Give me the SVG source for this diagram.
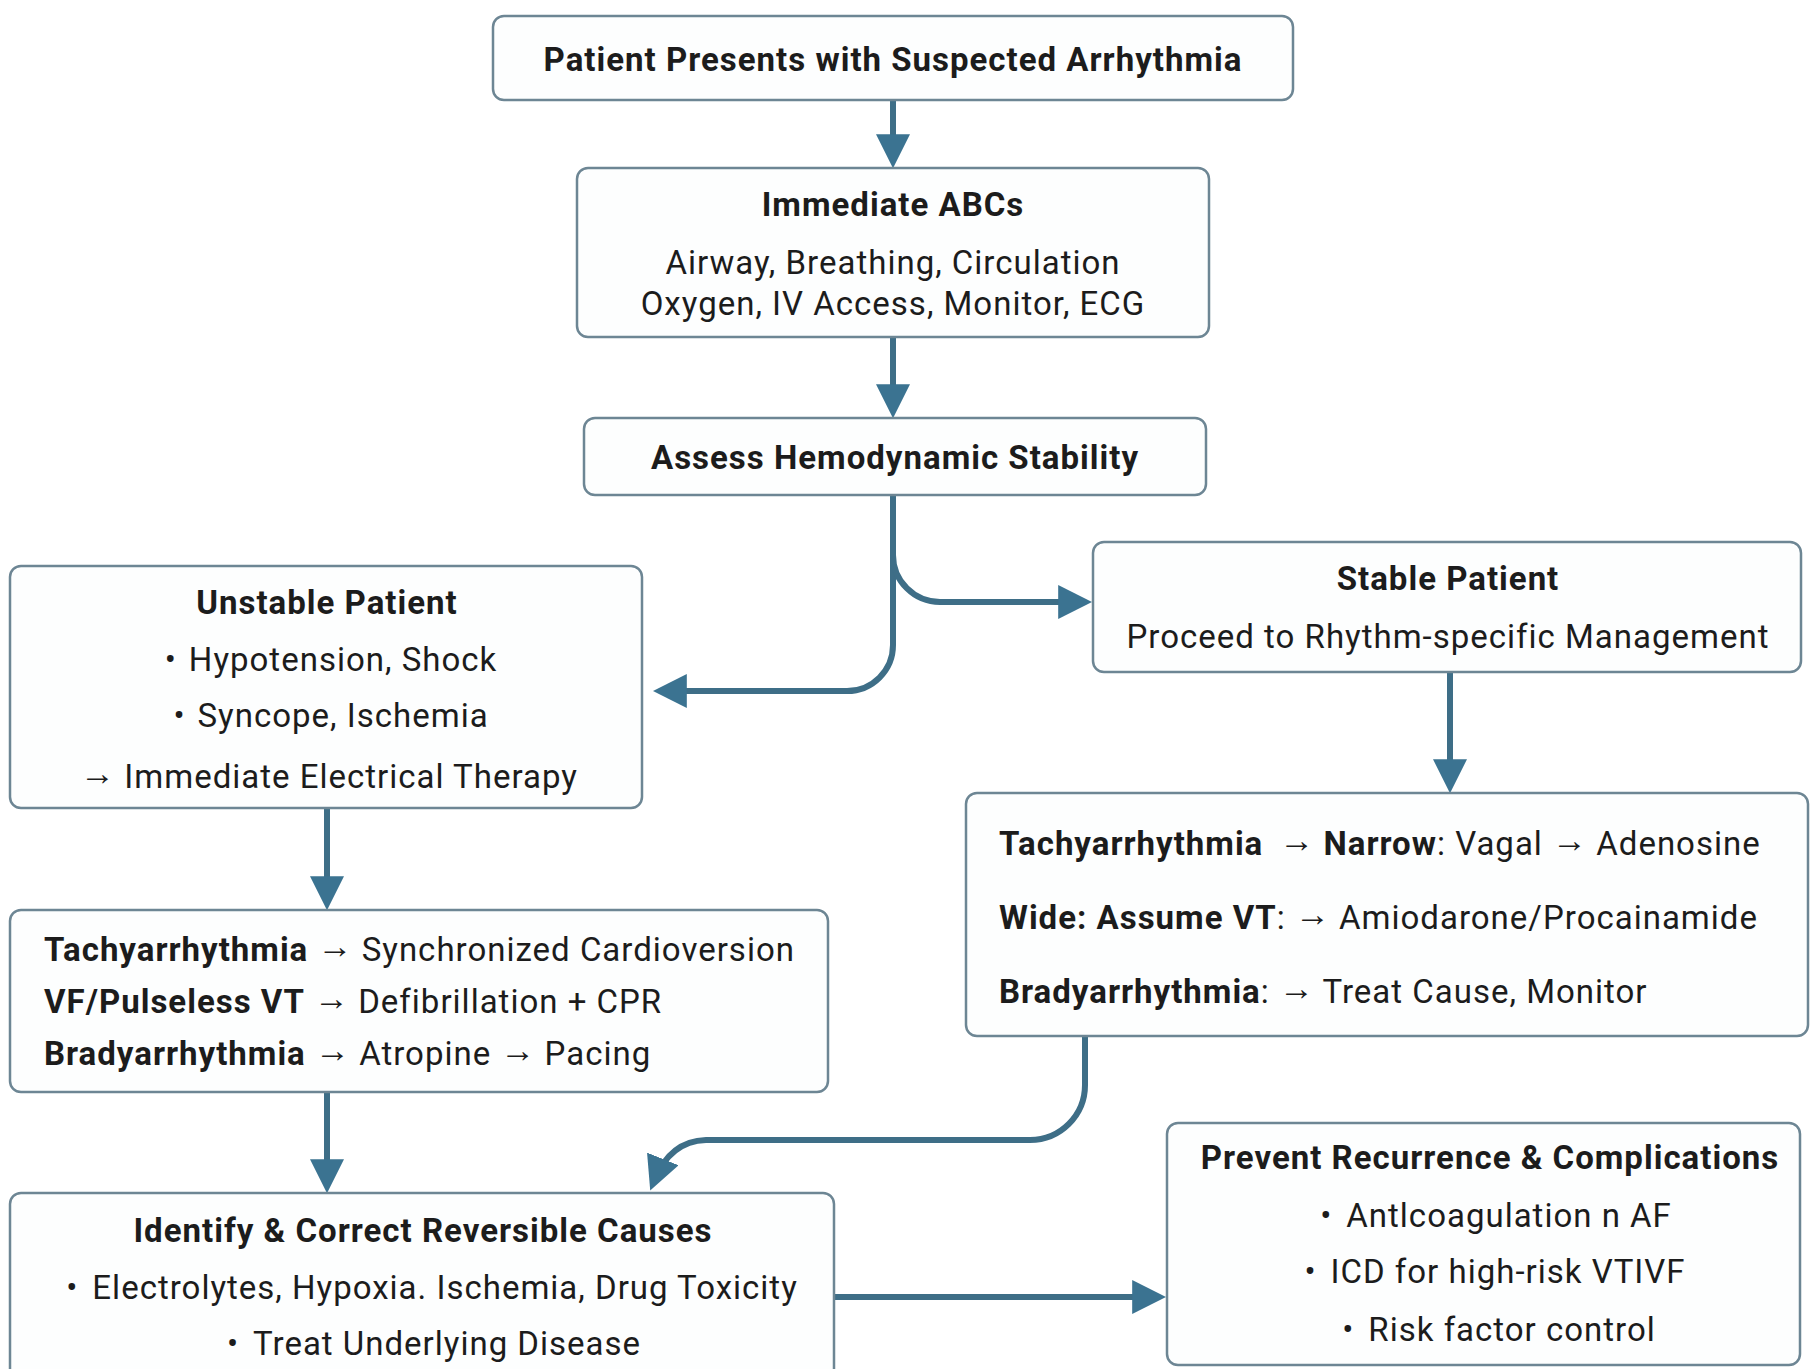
<svg xmlns="http://www.w3.org/2000/svg" width="1811" height="1369" viewBox="0 0 1811 1369">
<style>
.box{fill:#fdfefe;stroke:#6d8694;stroke-width:2.5}
text{font-family:Roboto,"Liberation Sans",Arial,sans-serif;fill:#1c1c1c;font-size:33px;letter-spacing:1px}
.c{text-anchor:middle}
.b{font-weight:bold}
.ar{font-size:35px;baseline-shift:3px;letter-spacing:0}
.conn{fill:none;stroke:#3e6e87;stroke-width:6}
</style>
<defs>
<marker id="ah" viewBox="0 0 10 10" refX="7" refY="5" markerWidth="34" markerHeight="34" markerUnits="userSpaceOnUse" orient="auto">
<path d="M0,0 L10,5 L0,10 z" fill="#3b7391"/>
</marker>
</defs>
<rect width="1811" height="1369" fill="#ffffff"/>
<g id="connectors">
<path class="conn" d="M893,100 V158" marker-end="url(#ah)"/>
<path class="conn" d="M893,337 V408" marker-end="url(#ah)"/>
<path class="conn" d="M893,495 V645 A46,46 0 0 1 847,691 H663" marker-end="url(#ah)"/>
<path class="conn" d="M893,555 A47,47 0 0 0 940,602 H1082" marker-end="url(#ah)"/>
<path class="conn" d="M1450,672 V783" marker-end="url(#ah)"/>
<path class="conn" d="M327,808 V900" marker-end="url(#ah)"/>
<path class="conn" d="M327,1092 V1183" marker-end="url(#ah)"/>
<path class="conn" d="M1085,1036 V1085 A55,55 0 0 1 1030,1140 H706 Q670,1141 654,1181" marker-end="url(#ah)"/>
<path class="conn" d="M834,1297 H1156" marker-end="url(#ah)"/>
</g>
<g id="n1">
<rect class="box" x="493" y="16" width="800" height="84" rx="11"/>
<text class="c b" x="893" y="71">Patient Presents with Suspected Arrhythmia</text>
</g>
<g id="n2">
<rect class="box" x="577" y="168" width="632" height="169" rx="11"/>
<text class="c b" x="893" y="216">Immediate ABCs</text>
<text class="c" x="893" y="274">Airway, Breathing, Circulation</text>
<text class="c" x="893" y="315">Oxygen, IV Access, Monitor, ECG</text>
</g>
<g id="n3">
<rect class="box" x="584" y="418" width="622" height="77" rx="11"/>
<text class="c b" x="895" y="469">Assess Hemodynamic Stability</text>
</g>
<g id="n4">
<rect class="box" x="10" y="566" width="632" height="242" rx="11"/>
<text class="c b" x="327" y="614">Unstable Patient</text>
<text class="c" x="331" y="671">•<tspan dx="12">Hypotension, Shock</tspan></text>
<text class="c" x="331" y="727">•<tspan dx="12">Syncope, Ischemia</tspan></text>
<text class="c" x="329" y="788"><tspan class="ar">→</tspan> Immediate Electrical Therapy</text>
</g>
<g id="n5">
<rect class="box" x="1093" y="542" width="708" height="130" rx="11"/>
<text class="c b" x="1448" y="590">Stable Patient</text>
<text class="c" x="1448" y="648">Proceed to Rhythm-specific Management</text>
</g>
<g id="n6">
<rect class="box" x="10" y="910" width="818" height="182" rx="11"/>
<text x="44" y="961"><tspan class="b">Tachyarrhythmia</tspan> <tspan class="ar">→</tspan> Synchronized Cardioversion</text>
<text x="44" y="1013"><tspan class="b">VF/Pulseless VT</tspan> <tspan class="ar">→</tspan> Defibrillation + CPR</text>
<text x="44" y="1065"><tspan class="b">Bradyarrhythmia</tspan> <tspan class="ar">→</tspan> Atropine <tspan class="ar">→</tspan> Pacing</text>
</g>
<g id="n7">
<rect class="box" x="966" y="793" width="842" height="243" rx="11"/>
<text x="999" y="855"><tspan class="b">Tachyarrhythmia</tspan><tspan class="ar" dx="16">→</tspan> <tspan class="b">Narrow</tspan>: Vagal <tspan class="ar">→</tspan> Adenosine</text>
<text x="999" y="929"><tspan class="b">Wide: Assume VT</tspan>: <tspan class="ar">→</tspan> Amiodarone/Procainamide</text>
<text x="999" y="1003"><tspan class="b">Bradyarrhythmia</tspan>: <tspan class="ar">→</tspan> Treat Cause, Monitor</text>
</g>
<g id="n8">
<rect class="box" x="10" y="1193" width="824" height="200" rx="11"/>
<text class="c b" x="423" y="1242">Identify &amp; Correct Reversible Causes</text>
<text class="c" x="432" y="1299">•<tspan dx="14">Electrolytes, Hypoxia. Ischemia, Drug Toxicity</tspan></text>
<text class="c" x="434" y="1355">•<tspan dx="14">Treat Underlying Disease</tspan></text>
</g>
<g id="n9">
<rect class="box" x="1167" y="1123" width="633" height="242" rx="11"/>
<text class="c b" x="1490" y="1169">Prevent Recurrence &amp; Complications</text>
<text class="c" x="1496" y="1227">•<tspan dx="14">Antlcoagulation n AF</tspan></text>
<text class="c" x="1495" y="1283">•<tspan dx="14">ICD for high-risk VTIVF</tspan></text>
<text class="c" x="1499" y="1341">•<tspan dx="14">Risk factor control</tspan></text>
</g>
</svg>
